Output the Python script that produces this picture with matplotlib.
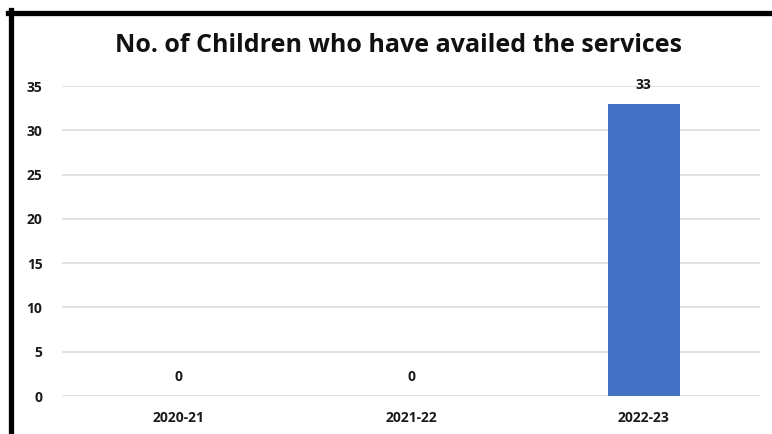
import matplotlib.pyplot as plt
from matplotlib.lines import Line2D

years = ["2020-21", "2021-22", "2022-23"]
children = [0, 0, 33]
yticks = [0, 5, 10, 15, 20, 25, 30, 35]

plt.rcParams['font.family'] = ['Open Sans', 'DejaVu Sans']

fig = plt.figure(figsize=(7.72, 4.34), dpi=100)
ax = fig.add_axes([62/772, 1 - 396/434, (760 - 62)/772, (396 - 86)/434])

x = range(len(years))
bars = ax.bar(x, children, width=0.31, color='#4472C4', zorder=3)
for xi, v in zip(x, children):
    ax.annotate(str(v), (xi, v), xytext=(0, 8.5), textcoords='offset points',
                ha='center', va='bottom', fontsize=10, fontweight='bold', color='#1a1a1a')

ax.set_xlim(-0.5, 2.5)
ax.set_ylim(0, 35)
ax.set_yticks(yticks)
ax.set_xticks(list(x))
ax.set_xticklabels(years)
ax.yaxis.grid(True, color='#d9d9d9', linewidth=1.1, zorder=0)
for s in ax.spines.values():
    s.set_visible(False)
ax.tick_params(axis='both', length=0, labelsize=10, labelcolor='#1a1a1a')
ax.tick_params(axis='y', pad=14)
ax.tick_params(axis='x', pad=11)
for lbl in ax.get_xticklabels() + ax.get_yticklabels():
    lbl.set_fontweight('bold')

fig.text(399/772, 1 - 46/434, "No. of Children who have availed the services",
         ha='center', va='center', fontsize=18, fontweight='bold', color='#111111')

# black frame at top and left
fig.add_artist(Line2D([8/772, 1], [1 - 12.5/434, 1 - 12.5/434], color='black', linewidth=3.8,
                      transform=fig.transFigure))
fig.add_artist(Line2D([10.5/772, 10.5/772], [0, 1 - 10/434], color='black', linewidth=3.8,
                      transform=fig.transFigure))

fig.savefig('out.png', dpi=100)
